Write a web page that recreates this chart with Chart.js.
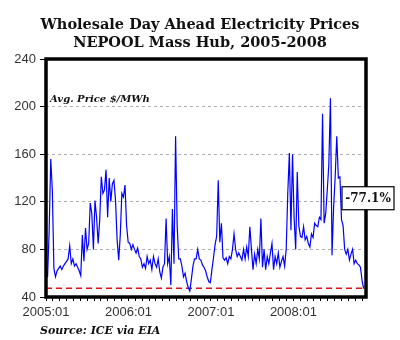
<!DOCTYPE html>
<html>
<head>
<meta charset="utf-8">
<script src="https://cdn.jsdelivr.net/npm/chart.js@4.4.1/dist/chart.umd.min.js"></script>
<style>
  body { margin: 0; background: #fff; }
  canvas { display: block; }
</style>
</head>
<body>
<canvas id="myChart" width="400" height="340"></canvas>
<script>
// weekly average day-ahead price, $/MWh, first week of Jan 2005 onwards
const prices = [
  57, 57, 96, 156, 130, 64, 57, 62, 64, 66,
  63, 66, 68, 70, 72, 83, 68, 72, 66, 68,
  65, 62, 58, 92, 70, 98, 80, 85, 119, 110,
  80, 121, 107, 85, 105, 141, 127, 130, 147, 107,
  140, 120, 135, 138, 121, 88, 71, 92, 127, 124,
  134, 100, 86, 85, 80, 84, 80, 77, 81, 74,
  72, 65, 68, 64, 74, 68, 71, 63, 74, 68,
  65, 72, 61, 56, 65, 68, 106, 68, 74, 50,
  114, 68, 175, 100, 72, 72, 66, 57, 60, 53,
  48, 45, 55, 66, 72, 72, 80, 72, 71, 67,
  65, 62, 57, 53, 52, 63, 73, 84, 91, 138,
  86, 102, 73, 71, 73, 68, 74, 72, 80, 93,
  80, 74, 77, 74, 71, 80, 72, 82, 74, 99,
  80, 63, 76, 68, 80, 72, 106, 65, 80, 63,
  74, 68, 77, 85, 63, 74, 68, 77, 65, 70,
  74, 66, 80, 127, 161, 96, 160, 107, 80, 145,
  100, 91, 90, 99, 88, 91, 85, 82, 93, 90,
  102, 100, 99, 107, 105, 194, 102, 110, 130, 152,
  207, 75, 115, 141, 175, 140, 141, 105, 100, 80,
  76, 80, 71, 76, 80, 68, 71, 68, 67, 65,
  54, 47
];
const latestLevel = 47.4;      // red dashed line, -77.1% from the peak
const yearLabels = ['2005:01', '2006:01', '2007:01', '2008:01'];
const yTicks = [40, 80, 120, 160, 200, 240];
const titleLines = ['Wholesale Day Ahead Electricity Prices', 'NEPOOL Mass Hub, 2005-2008'];

const weeksPerMonth = 52.18 / 12;
const xMax = 202.5;

const pricePoints = prices.map((p, i) => ({ x: i, y: p }));
const levelPoints = [{ x: 0, y: latestLevel }, { x: xMax, y: latestLevel }];

// month tick positions (in weeks), labels only on January
const monthTicks = [];
for (let m = 0; m <= 46; m++) monthTicks.push(m * weeksPerMonth);

const chartExtras = {
  id: 'chartExtras',
  afterDatasetsDraw(chart) {
    const { ctx, chartArea: a } = chart;
    ctx.save();
    ctx.strokeStyle = '#000';
    ctx.lineWidth = 3.5;
    ctx.strokeRect(a.left, a.top, a.right - a.left, a.bottom - a.top);
    ctx.restore();
  },
  afterDraw(chart) {
    const { ctx, chartArea: a, scales } = chart;
    ctx.save();
    ctx.fillStyle = '#111';
    ctx.textBaseline = 'middle';

    // title, centred on the whole canvas
    ctx.textAlign = 'center';
    ctx.font = 'bold 14.5px "DejaVu Serif"';
    ctx.fillText(titleLines[0], 200, 25);
    ctx.fillText(titleLines[1], 200, 43);

    ctx.textAlign = 'left';
    ctx.font = 'italic bold 10px "DejaVu Serif"';
    ctx.fillText('Avg. Price $/MWh', a.left + 4, a.top + 40);

    ctx.font = 'italic bold 11px "DejaVu Serif"';
    ctx.fillText('Source: ICE via EIA', 40, 331);

    // callout box for the drop
    const boxY = scales.y.getPixelForValue(123);
    const boxX = a.right - 24;
    ctx.fillStyle = '#fff';
    ctx.fillRect(boxX, boxY - 11.5, 52, 23);
    ctx.strokeStyle = '#000';
    ctx.lineWidth = 1.2;
    ctx.strokeRect(boxX, boxY - 11.5, 52, 23);
    ctx.fillStyle = '#111';
    ctx.textAlign = 'center';
    ctx.font = 'bold 12px "DejaVu Serif"';
    ctx.fillText('-77.1%', boxX + 26, boxY + 1);
    ctx.restore();
  }
};

var ctx = document.getElementById('myChart').getContext('2d');
var chart = new Chart(ctx, {
  type: 'line',
  data: {
    datasets: [
      {
        data: pricePoints,
        borderColor: '#0000ff',
        borderWidth: 1.2,
        pointRadius: 0,
        tension: 0
      },
      {
        data: levelPoints,
        borderColor: '#dd1111',
        borderWidth: 1.5,
        borderDash: [6, 4],
        pointRadius: 0
      }
    ]
  },
  options: {
    responsive: false,
    animation: false,
    layout: { padding: { left: 0, right: 34, top: 59, bottom: 19 } },
    plugins: {
      legend: { display: false },
      tooltip: { enabled: false },
      title: { display: false }
    },
    scales: {
      x: {
        type: 'linear',
        min: 0,
        max: xMax,
        afterFit: (scale) => { scale.height = 24; },
        afterBuildTicks: (scale) => { scale.ticks = monthTicks.map(v => ({ value: v })); },
        grid: { drawOnChartArea: false, drawTicks: true, tickLength: 4, tickColor: '#000' },
        border: { display: false },
        ticks: {
          autoSkip: false,
          maxRotation: 0,
          padding: 4,
          color: '#333',
          font: { family: 'Liberation Sans', size: 13 },
          callback: (v, i) => (i % 12 === 0 ? yearLabels[i / 12] : '')
        }
      },
      y: {
        min: 40,
        max: 240,
        afterFit: (scale) => { scale.width = 46; },
        afterBuildTicks: (scale) => { scale.ticks = yTicks.map(v => ({ value: v })); },
        grid: {
          color: (c) => (c.tick && c.tick.value > 40 && c.tick.value < 240 ? '#b0b0b0' : 'rgba(0,0,0,0)'),
          tickColor: '#000',
          tickLength: 6
        },
        border: { display: false, dash: [3, 3] },
        ticks: {
          padding: 4,
          color: '#333',
          font: { family: 'Liberation Sans', size: 13 }
        }
      }
    }
  },
  plugins: [chartExtras]
});
</script>
</body>
</html>
